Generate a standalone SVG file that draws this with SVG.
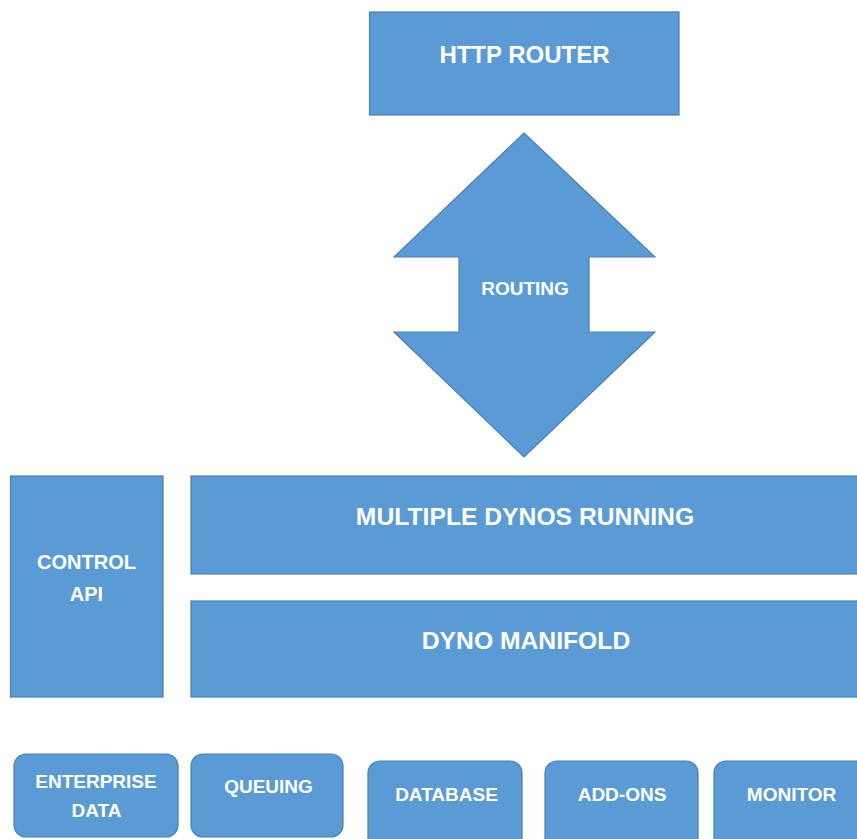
<svg xmlns="http://www.w3.org/2000/svg" width="857" height="839" viewBox="0 0 857 839">
<style>
.box{fill:#5B9BD5;stroke:#4A7FB5;stroke-width:1.2}
.t{fill:#fff;font-family:"Liberation Sans",Arial,sans-serif;font-weight:bold;text-anchor:middle}
.big{font-size:24px}
.big2{font-size:24.7px}
.mid{font-size:20px}
.sm{font-size:19px}
</style>
<rect width="857" height="839" fill="#fff"/>
<g id="http-router">
<rect class="box" x="369.5" y="12" width="309.5" height="103"/>
<text class="t big" x="524.5" y="63">HTTP ROUTER</text>
</g>
<g id="connectors">
<g id="routing">
<path class="box" d="M524,133 L655,257 L589,257 L589,332 L655,332 L524,457 L394,332 L459,332 L459,257 L394,257 Z"/>
<text class="t sm" x="525" y="295">ROUTING</text>
</g>
</g>
<g id="control-api">
<rect class="box" x="10.5" y="476" width="152.5" height="221"/>
<text class="t mid" x="86.5" y="569">CONTROL</text>
<text class="t mid" x="86.5" y="601">API</text>
</g>
<g id="multiple-dynos">
<rect class="box" x="191" y="476" width="670" height="98"/>
<text class="t big2" x="525" y="525">MULTIPLE DYNOS RUNNING</text>
</g>
<g id="dyno-manifold">
<rect class="box" x="191" y="601" width="670" height="96"/>
<text class="t big2" x="526" y="649">DYNO MANIFOLD</text>
</g>
<g id="enterprise-data">
<rect class="box" x="14" y="754" width="164" height="83" rx="12"/>
<text class="t sm" x="96" y="788">ENTERPRISE</text>
<text class="t sm" x="96.5" y="817">DATA</text>
</g>
<g id="queuing">
<rect class="box" x="191" y="754" width="152" height="83" rx="12"/>
<text class="t sm" x="268.5" y="793">QUEUING</text>
</g>
<g id="database">
<rect class="box" x="368" y="761" width="154" height="90" rx="12"/>
<text class="t sm" x="446.5" y="801">DATABASE</text>
</g>
<g id="add-ons">
<rect class="box" x="545" y="761" width="153" height="90" rx="12"/>
<text class="t sm" x="622" y="801">ADD-ONS</text>
</g>
<g id="monitor">
<rect class="box" x="714" y="761" width="160" height="90" rx="12"/>
<text class="t sm" x="791.5" y="801">MONITOR</text>
</g>
</svg>
